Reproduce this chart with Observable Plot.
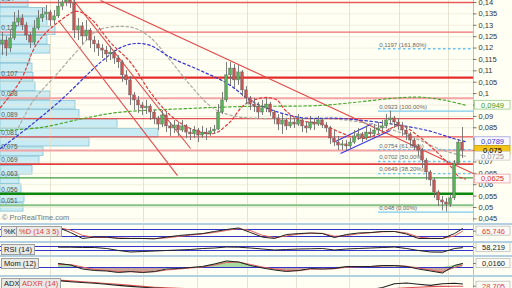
<!DOCTYPE html>
<html><head><meta charset="utf-8">
<script src="https://cdn.jsdelivr.net/npm/d3@7"></script>
<script src="https://cdn.jsdelivr.net/npm/@observablehq/plot@0.6"></script>
<style>
html,body{margin:0;padding:0;background:#fffff4;}
#wrap{position:relative;width:512px;height:288px;overflow:hidden;background:#fffff4;font-family:"Liberation Sans",Arial,sans-serif;}
#wrap svg{position:absolute;left:0;}
.lbl{position:absolute;font-size:7.5px;line-height:9px;height:9px;padding:0 2px;background:#e9e9e6;border:1px solid #a0a0a0;color:#222;white-space:nowrap;}
.red{color:#e04040;}
.sep{position:absolute;left:0;width:512px;height:2px;background:#b3cfe2;}
.credit{position:absolute;left:2px;top:213px;font-size:7.5px;color:#777;}
</style></head><body><div id="wrap"></div>
<script>
// ---------------- DATA ----------------
const open0 = 0.1216;
const closes = [
0.1233,0.1198,0.1242,0.1312,0.1330,0.1299,0.1255,0.1224,0.1286,0.1330,
0.1347,0.1356,0.1321,0.1339,0.1382,0.1400,0.1409,0.1396,0.1277,0.1295,
0.1251,0.1277,0.1233,0.1216,0.1198,0.1189,0.1172,0.1180,0.1154,0.1137,
0.1080,0.1058,0.0992,0.0970,0.0948,0.0935,0.0943,0.0917,0.0891,0.0864,
0.0904,0.0856,0.0847,0.0860,0.0838,0.0856,0.0829,0.0821,0.0838,0.0816,
0.0829,0.0821,0.0834,0.0842,0.0917,0.0970,0.1080,0.1110,0.1058,0.1093,
0.1014,0.0979,0.0952,0.0943,0.0917,0.0935,0.0952,0.0917,0.0891,0.0864,
0.0882,0.0856,0.0873,0.0864,0.0882,0.0856,0.0847,0.0873,0.0864,0.0882,
0.0860,0.0847,0.0803,0.0785,0.0772,0.0777,0.0768,0.0785,0.0812,0.0821,
0.0803,0.0829,0.0821,0.0838,0.0847,0.0856,0.0882,0.0891,0.0873,0.0860,
0.0838,0.0821,0.0794,0.0768,0.0750,0.0706,0.0654,0.0619,0.0566,0.0531,
0.0522,0.0513,0.0540,0.0693,0.0785,0.0750];
const highs = [
0.1268,0.1251,0.1277,0.1356,0.1365,0.1347,0.1312,0.1268,0.1321,0.1365,
0.1374,0.1387,0.1365,0.1365,0.1409,0.1431,0.1444,0.1435,0.1409,0.1330,
0.1312,0.1321,0.1286,0.1251,0.1233,0.1216,0.1207,0.1207,0.1189,0.1167,
0.1145,0.1101,0.1075,0.1005,0.0987,0.0961,0.0970,0.0952,0.0926,0.0900,
0.0926,0.0917,0.0873,0.0882,0.0873,0.0882,0.0864,0.0847,0.0856,0.0847,
0.0856,0.0847,0.0851,0.0860,0.0952,0.1005,0.1137,0.1137,0.1128,0.1123,
0.1101,0.1031,0.0987,0.0979,0.0961,0.0970,0.0979,0.0961,0.0926,0.0908,
0.0908,0.0891,0.0900,0.0891,0.0908,0.0891,0.0873,0.0900,0.0891,0.0900,
0.0891,0.0873,0.0856,0.0838,0.0812,0.0794,0.0794,0.0803,0.0838,0.0847,
0.0829,0.0856,0.0847,0.0864,0.0873,0.0882,0.0908,0.0923,0.0900,0.0891,
0.0873,0.0856,0.0829,0.0803,0.0777,0.0759,0.0715,0.0662,0.0627,0.0575,
0.0548,0.0540,0.0557,0.0706,0.0794,0.0851];
const lows = [
0.1167,0.1163,0.1180,0.1233,0.1295,0.1277,0.1233,0.1198,0.1211,0.1277,
0.1312,0.1321,0.1295,0.1303,0.1330,0.1365,0.1382,0.1374,0.1242,0.1233,
0.1216,0.1233,0.1198,0.1180,0.1163,0.1154,0.1137,0.1145,0.1128,0.1110,
0.1049,0.1036,0.0948,0.0926,0.0913,0.0904,0.0908,0.0882,0.0864,0.0838,
0.0851,0.0829,0.0812,0.0825,0.0812,0.0829,0.0803,0.0794,0.0803,0.0785,
0.0803,0.0794,0.0812,0.0821,0.0838,0.0908,0.0961,0.1036,0.1022,0.1036,
0.0987,0.0952,0.0926,0.0917,0.0891,0.0904,0.0917,0.0900,0.0864,0.0838,
0.0821,0.0838,0.0847,0.0847,0.0856,0.0829,0.0825,0.0838,0.0838,0.0856,
0.0847,0.0829,0.0777,0.0768,0.0750,0.0750,0.0750,0.0759,0.0777,0.0794,
0.0785,0.0794,0.0803,0.0812,0.0821,0.0829,0.0847,0.0864,0.0847,0.0838,
0.0812,0.0794,0.0768,0.0750,0.0724,0.0671,0.0619,0.0592,0.0540,0.0504,
0.0485,0.0480,0.0500,0.0531,0.0684,0.0715];

// moving averages (bar index, price)
const maRedIdx = [-0.5,4.5,8.75,14.5,18.5,22,27,32,37,42,47,52.75,56.5,60.25,63.25,66.25,68.75,70.75,74.5,79.5,84.5,89.5,94.5,99.5,103.75,109.5,112.5,114,115.75];
const maRedVal = [0.0939,0.1057,0.1224,0.1321,0.1361,0.1330,0.1224,0.1137,0.1005,0.0904,0.0847,0.0825,0.0869,0.0948,0.0974,0.0983,0.0970,0.0926,0.0882,0.0869,0.0829,0.0803,0.0825,0.0860,0.0816,0.0728,0.0671,0.0636,0.0625];
const maBlueIdx = [-0.5,7,14.5,24.5,29.5,33.25,37,42,49.5,56.25,62,66.25,74.5,84.5,96.25,106.25,112.75,115.75];
const maBlueVal = [0.0759,0.0860,0.0970,0.1137,0.1202,0.1220,0.1211,0.1159,0.1101,0.1044,0.0970,0.0935,0.0895,0.0891,0.0869,0.0838,0.0803,0.0789];
const maGrayIdx = [4,7.75,13.25,18.75,23.75,29.5,33.25,37,42,47,52.75,58.25,64.5,74.5,84.5,94.5,102.75,110.25,115.75];
const maGrayVal = [0.0851,0.0970,0.1079,0.1189,0.1277,0.1295,0.1286,0.1246,0.1145,0.1036,0.0935,0.0900,0.0891,0.0891,0.0886,0.0856,0.0807,0.0750,0.0725];
const maGreenIdx = [-0.5,9.5,20.25,28.75,47,59.5,79.5,87.75,100.25,105.75,110.75,115.75];
const maGreenVal = [0.0838,0.0851,0.0891,0.0917,0.0935,0.0943,0.0948,0.0961,0.0983,0.0983,0.0970,0.0949];

// trend lines [index1, price1, index2, price2]
const redTrends = [[24.5,0.1409,117.75,0.0649],[14,0.1321,43.75,0.0640],[17.75,0.1409,47,0.0759]];
const blueTrends = [[83.25,0.0790,92.5,0.0869],[84.5,0.0737,97,0.0838]];

// horizontal support / resistance levels
const levelValues = [0.14,0.127,0.107,0.098,0.089,0.081,0.075,0.069,0.063,0.056,0.051];
const levelLabels = ["0,14","0,127","0,107","0,098","0,089","0,081","0,075","0,069","0,063","0,056","0,051"];

// fibonacci
const fibValues = [0.1197,0.0923,0.0754,0.0702,0.0649,0.048];
const fibLabels = ["0,1197 (161,80%)","0,0923 (100,00%)","0,0754 (61,80%)","0,0702 (50,00%)","0,0649 (38,20%)","0,048 (0,00%)"];
const fibStart = 94;

// volume by price
const vpLow = [0.0480,0.0521,0.0562,0.0602,0.0643,0.0684,0.0725,0.0766,0.0806,0.0847,0.0888,0.0929,0.0970,0.1010,0.1051,0.1092,0.1133,0.1174,0.1214,0.1255,0.1296,0.1337,0.1378];
const vpVol = [23,24,21,19,32,39,43,89,158,117,79,75,50,35,33,32,30,50,47,55,47,45,28];
const vpStep = 0.0041;

// axis ticks and grid
const priceTicks = [0.14,0.135,0.13,0.125,0.12,0.115,0.11,0.105,0.1,0.095,0.09,0.085,0.08,0.075,0.07,0.065,0.06,0.055,0.05,0.045];
const gridIdx = [12,35.25,48.75,61.25,73.5,86.75,99.25,111.5];

// last-value markers on the price axis
const markerValues = [0.0949,0.0789,0.075,0.0725,0.0625];
const markerLabels = ["0,0949","0,0789","0,075","0,0725","0,0625"];

// indicators
const subIdx = [14,17,20,23,26,29,32,35,38,41,44,47,50,53,56,59,62,65,68,71,74,77,80,83,86,89,92,95,98,101,104,107,110,113,115];
const stochK = [97,54,3,15,15,3,3,3,0,15,28,37,45,63,80,93,54,15,3,37,45,50,45,11,37,50,54,63,63,41,3,3,3,45,88];
const stochD = [95,75,30,12,12,8,4,3,2,8,20,32,42,55,72,88,70,30,10,25,40,48,47,22,28,44,52,60,63,50,15,4,3,25,65.746];
const rsi = [63,63,60,60,50,30,15,20,25,30,35,40,50,55,65,63,55,45,35,40,45,47,50,35,45,50,55,60,65,50,30,15,13,50,58.219];
const mom = [0.016,0.010,-0.006,-0.012,-0.014,-0.020,-0.016,-0.020,-0.016,-0.006,-0.004,0,0.004,0.014,0.026,0.022,0.008,-0.002,-0.010,-0.016,-0.012,-0.004,-0.006,-0.004,0.004,0.004,0.004,0.008,0.008,0.004,-0.006,-0.014,-0.022,0.008,0.016];
const momSig = [0.012,0.012,0.002,-0.008,-0.012,-0.016,-0.017,-0.018,-0.017,-0.010,-0.006,-0.002,0.002,0.010,0.020,0.022,0.012,0.002,-0.006,-0.012,-0.013,-0.007,-0.006,-0.005,0.001,0.003,0.004,0.006,0.007,0.005,-0.002,-0.010,-0.018,0.000,0.010];
const adx = [50,46,43,40,36,32,28,25,22,20,18,16,15,15,15,15,15,15,15,15,15,15,15,15,15,15,15,24,38,41,36,32,38,40,37];
const adxr = [52,49,46,43,39,36,32,28,25,23,21,19,17,16,15,15,15,15,15,15,15,15,15,15,15,15,15,17,20,23,25,27,28,28.5,28.705];

// ---------------- STYLES / LAYOUT ----------------
const wrap = document.getElementById("wrap");
const W = 512, AXW = 39, MAIN_H = 222;
const xDomain = [-0.5, 117.75];
const xEnd = xDomain[1];
const pxPerIdx = (W - AXW) / (xDomain[1] - xDomain[0]);
const yDomain = [0.04341, 0.140878];
const FONT = "'Liberation Sans', Arial, sans-serif";
const DASH = "2.5,2.5";
const levelStroke = ["#e85a5a","#ec7070","#e42c2c","#f3a4a4","#e65252","#e65252","#f2a2a2","#e23e3e","#3e9e3e","#0b880b","#86c286"];
const levelWidth = [1.3,1.3,2.3,2,1.2,1.2,2,1.8,1.4,2.4,2];
const fibSolid = [false,true,false,false,false,true];
const markerText = ["#3c9a1c","#3a3ad0","#000","#9a9a9a","#d83030"];
const markerFill = ["#fbfff4","#f8f8ff","#f5c518","#fbfbf8","#fff8f8"];
const markerStroke = ["#9ccc8c","#a0a0dc","#c9a000","#cccccc","#e8a0a0"];

const tickFmt = v => String(+v.toFixed(4)).replace(".", ",");
const pts = (idx, vals) => idx.map((x, k) => ({x, y: vals[k]}));
const place = (el, top) => { el.style.top = top + "px"; el.style.left = "0px"; el.style.position = "absolute"; wrap.appendChild(el); };
const baseStyle = {background: "transparent", fontFamily: FONT, fontSize: "7.5px", color: "#333", overflow: "visible"};
const axisX = (px) => xEnd + px / pxPerIdx; // pixel offset into the axis strip, through the x scale

// volume profile layer
const vpData = vpLow.map((lo, k) => ({lo, vol: vpVol[k]}));
place(Plot.plot({
  width: W - AXW, height: MAIN_H, marginTop: 0, marginBottom: 0, marginLeft: 0, marginRight: 0,
  x: {domain: [0, W - AXW], axis: null},
  y: {domain: yDomain, axis: null},
  style: baseStyle,
  marks: [
    Plot.rect(vpData, {x1: () => 0, x2: "vol", y1: "lo", y2: d => d.lo + vpStep, fill: "#c9ecf4", stroke: "#86c2d3", strokeWidth: 0.8, insetTop: 0.4, insetBottom: 0.4})
  ]
}), 0);

// main price layer
const candles = closes.map((c, i) => ({i, o: i === 0 ? open0 : closes[i - 1], c, h: highs[i], l: lows[i]}));
const upC = candles.filter(d => d.c >= d.o), dnC = candles.filter(d => d.c < d.o);
const lvData = levelValues.map((v, k) => ({v, t: levelLabels[k], k}));
const fibData = fibValues.map((v, k) => ({v, t: fibLabels[k], k}));
const link = arr => arr.map(a => ({x1: a[0], y1: a[1], x2: a[2], y2: a[3]}));
const mkData = markerValues.map((v, k) => ({v, t: markerLabels[k], k}));
const mainHalf = 4.4 * (yDomain[1] - yDomain[0]) / MAIN_H;
const visibleTicks = priceTicks.filter(t => markerValues.every(m => Math.abs(m - t) > 0.0022));

const mainMarks = [
  Plot.ruleY(priceTicks, {stroke: "#ebe8d4", strokeWidth: 0.7}),
  Plot.ruleX(gridIdx, {stroke: "#e3e0cc", strokeWidth: 0.9}),
  ...lvData.map(d => Plot.ruleY([d.v], {stroke: levelStroke[d.k], strokeWidth: levelWidth[d.k], clip: true})),
  Plot.text(lvData, {x: () => xDomain[0] + 0.2, y: "v", text: "t", textAnchor: "start", dy: -4, fontSize: 6.5, fill: "#555", clip: true}),
  Plot.link(link(redTrends), {x1: "x1", y1: "y1", x2: "x2", y2: "y2", stroke: "#e24a4a", strokeWidth: 1.1, clip: true}),
  Plot.link(link(blueTrends), {x1: "x1", y1: "y1", x2: "x2", y2: "y2", stroke: "#3a3ae0", strokeWidth: 1.2, clip: true}),
  Plot.ruleY(fibData.filter(d => fibSolid[d.k]), {y: "v", x1: () => fibStart, x2: () => xEnd, stroke: "#7ccbee", strokeWidth: 1.3}),
  Plot.ruleY(fibData.filter(d => !fibSolid[d.k]), {y: "v", x1: () => fibStart, x2: () => xEnd, stroke: "#6cc4ee", strokeWidth: 1.3, strokeDasharray: DASH}),
  Plot.text(fibData, {x: () => fibStart + 0.2, y: "v", text: "t", textAnchor: "start", dy: -4, fontSize: 6, fill: "#666"}),
  Plot.line(pts(maGreenIdx, maGreenVal), {x: "x", y: "y", stroke: "#4aa82a", strokeWidth: 1.2, strokeDasharray: DASH, curve: "catmull-rom", clip: true}),
  Plot.line(pts(maGrayIdx, maGrayVal), {x: "x", y: "y", stroke: "#aaa9a0", strokeWidth: 1.2, strokeDasharray: DASH, curve: "catmull-rom", clip: true}),
  Plot.line(pts(maBlueIdx, maBlueVal), {x: "x", y: "y", stroke: "#3434d4", strokeWidth: 1.2, strokeDasharray: DASH, curve: "catmull-rom", clip: true}),
  Plot.line(pts(maRedIdx, maRedVal), {x: "x", y: "y", stroke: "#e23a3a", strokeWidth: 1.2, strokeDasharray: DASH, curve: "catmull-rom", clip: true}),
  Plot.ruleX(candles, {x: "i", y1: "l", y2: "h", stroke: "#6e6e6e", strokeWidth: 0.9, clip: true}),
  Plot.rect(upC, {x1: d => d.i - 0.34, x2: d => d.i + 0.34, y1: "o", y2: "c", fill: "#56b256", stroke: "#5a5a5a", strokeWidth: 0.4, clip: true}),
  Plot.rect(dnC, {x1: d => d.i - 0.34, x2: d => d.i + 0.34, y1: "o", y2: "c", fill: "#c45656", stroke: "#5a5a5a", strokeWidth: 0.4, clip: true}),
  Plot.ruleX([xEnd], {stroke: "#a9c6dc", strokeWidth: 1}),
  Plot.ruleY(priceTicks, {x1: () => xEnd, x2: () => axisX(3.5), stroke: "#555", strokeWidth: 0.8}),
  Plot.text(visibleTicks, {x: () => axisX(5), y: d => d, text: d => tickFmt(d), textAnchor: "start", fontSize: 7.5, fill: "#333"}),
  ...mkData.map(d => Plot.rect([d], {x1: () => axisX(1.5), x2: () => axisX(37), y1: e => e.v - mainHalf, y2: e => e.v + mainHalf, fill: markerFill[d.k], stroke: markerStroke[d.k], strokeWidth: 0.8})),
  ...mkData.map(d => Plot.text([d], {x: () => axisX(19), y: "v", text: "t", fill: markerText[d.k], fontSize: 7.5, textAnchor: "middle"}))
];
place(Plot.plot({
  width: W, height: MAIN_H, marginTop: 0, marginBottom: 0, marginLeft: 0, marginRight: AXW,
  x: {domain: xDomain, axis: null},
  y: {domain: yDomain, axis: null},
  style: baseStyle,
  marks: mainMarks
}), 0);

// indicator panels
function panel(top, h, yDom, marks, mkVal, mkLabel, mkColor) {
  const half = 4.5 * (yDom[1] - yDom[0]) / h;
  place(Plot.plot({
    width: W, height: h, marginTop: 0, marginBottom: 0, marginLeft: 0, marginRight: AXW,
    x: {domain: xDomain, axis: null},
    y: {domain: yDom, axis: null},
    style: baseStyle,
    marks: [
      Plot.ruleX(gridIdx, {stroke: "#e3e0cc", strokeWidth: 0.9}),
      ...marks,
      Plot.ruleX([xEnd], {stroke: "#a9c6dc", strokeWidth: 1}),
      Plot.ruleY([mkVal], {x1: () => xEnd, x2: () => axisX(3.5), stroke: "#555", strokeWidth: 0.8}),
      Plot.rect([mkVal], {x1: () => axisX(3), x2: () => axisX(37), y1: v => v - half, y2: v => v + half, fill: "#fbfbf6", stroke: "#bdbdbd", strokeWidth: 0.8}),
      Plot.text([mkVal], {x: () => axisX(20), y: v => v, text: () => mkLabel, fill: mkColor, fontSize: 7.5, textAnchor: "middle"})
    ]
  }), top);
}
const sub = (vals) => subIdx.map((x, k) => ({x, v: vals[k]}));

panel(225, 16, [-22.9, 114.3], [
  Plot.ruleY([80, 20], {stroke: "#3434c8", strokeWidth: 1.2}),
  Plot.line(sub(stochD), {x: "x", y: "v", stroke: "#e06060", strokeWidth: 1, clip: true}),
  Plot.line(sub(stochK), {x: "x", y: "v", stroke: "#222", strokeWidth: 1, clip: true})
], stochD[stochD.length - 1], "65,746", "#e04040");

panel(243, 12, [-20, 100], [
  Plot.areaY(sub(rsi), {x: "x", y1: () => 70, y2: d => Math.max(70, d.v), fill: "#9a9a9a", fillOpacity: 0.7}),
  Plot.areaY(sub(rsi), {x: "x", y1: () => 30, y2: d => Math.min(30, d.v), fill: "#9a9a9a", fillOpacity: 0.7, clip: true}),
  Plot.ruleY([70, 30], {stroke: "#3434c8", strokeWidth: 1.2}),
  Plot.line(sub(rsi), {x: "x", y: "v", stroke: "#222", strokeWidth: 1, clip: true})
], rsi[rsi.length - 1], "58,219", "#222");

panel(257, 18, [-0.032, 0.040], [
  Plot.areaY(sub(mom), {x: "x", y1: () => 0, y2: d => Math.max(0, d.v), fill: "#a9d9a1"}),
  Plot.areaY(sub(mom), {x: "x", y1: () => 0, y2: d => Math.min(0, d.v), fill: "#caa597"}),
  Plot.ruleY([0], {stroke: "#3434c8", strokeWidth: 1.2}),
  Plot.line(sub(momSig), {x: "x", y: "v", stroke: "#e06060", strokeWidth: 1, clip: true}),
  Plot.line(sub(mom), {x: "x", y: "v", stroke: "#222", strokeWidth: 1, clip: true})
], mom[mom.length - 1], "0,0160", "#222");

panel(277, 11, [20, 61.9], [
  Plot.line(sub(adxr), {x: "x", y: "v", stroke: "#e05050", strokeWidth: 1.1, clip: true}),
  Plot.line(sub(adx), {x: "x", y: "v", stroke: "#222", strokeWidth: 1.1, clip: true})
], adxr[adxr.length - 1], "28,705", "#e04040");

// separators, labels, credit
[223, 241, 255, 275].forEach(y => { const d = document.createElement("div"); d.className = "sep"; d.style.top = y + "px"; wrap.appendChild(d); });
const labels = [
  {t: "%K", l: 1, top: 226, red: false}, {t: "%D (14 3 5)", l: 16, top: 226, red: true},
  {t: "RSI (14)", l: 1, top: 243.5, red: false},
  {t: "Mom (12)", l: 1, top: 258, red: false},
  {t: "ADX", l: 1, top: 278, red: false}, {t: "ADXR (14)", l: 19, top: 278, red: true}
];
labels.forEach(o => { const d = document.createElement("div"); d.className = "lbl" + (o.red ? " red" : ""); d.style.left = o.l + "px"; d.style.top = o.top + "px"; d.textContent = o.t; wrap.appendChild(d); });
const cr = document.createElement("div"); cr.className = "credit"; cr.textContent = "© ProRealTime.com"; wrap.appendChild(cr);
</script>
</body></html>
